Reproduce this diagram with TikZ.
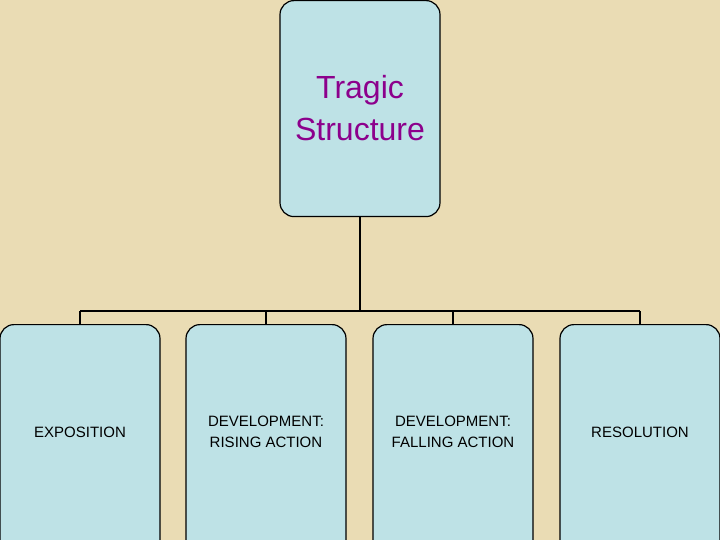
\documentclass[tikz,border=0pt]{standalone}
\usepackage{fontspec}
\setmainfont{Liberation Sans}
\definecolor{bg}{RGB}{234,220,180}
\definecolor{boxc}{RGB}{190,226,230}
\definecolor{ttl}{RGB}{140,0,140}
\begin{document}
\begin{tikzpicture}[x=1pt,y=-1pt,
  box/.style={draw=black,line width=1.2pt,fill=boxc,rounded corners=14pt,minimum width=160pt,inner sep=0pt},
  lbl/.style={font=\fontsize{15}{21}\selectfont,align=center},
  conn/.style={line width=2.5pt}]
\useasboundingbox (0,0) rectangle (720,540);
\clip (0,0) rectangle (720,540);
\fill[bg] (0,0) rectangle (720,540);
\node[box,minimum height=216pt,anchor=north] (top) at (360,0) {};
\node[font=\fontsize{32}{42}\selectfont,text=ttl,align=center] (tt) at (360,108) {Tragic\\Structure};
\foreach \n/\x in {a/80,b/266,c/453,d/640}{
  \node[box,minimum height=240pt,anchor=north] (\n) at (\x,324) {};
  \coordinate (\n t) at (\x,311);
}
\node[lbl] at (80,432) {EXPOSITION};
\node[lbl] at (266,432) {DEVELOPMENT:\\RISING ACTION};
\node[lbl] at (453,432) {DEVELOPMENT:\\FALLING ACTION};
\node[lbl] at (640,432) {RESOLUTION};
\coordinate (hub) at (360,311);
\draw[conn] (top.south) -- (hub);
\draw[conn] (at) -- (dt);
\foreach \n in {a,b,c,d}{\draw[conn] (\n t) -- (\n.north);}
\end{tikzpicture}
\end{document}
